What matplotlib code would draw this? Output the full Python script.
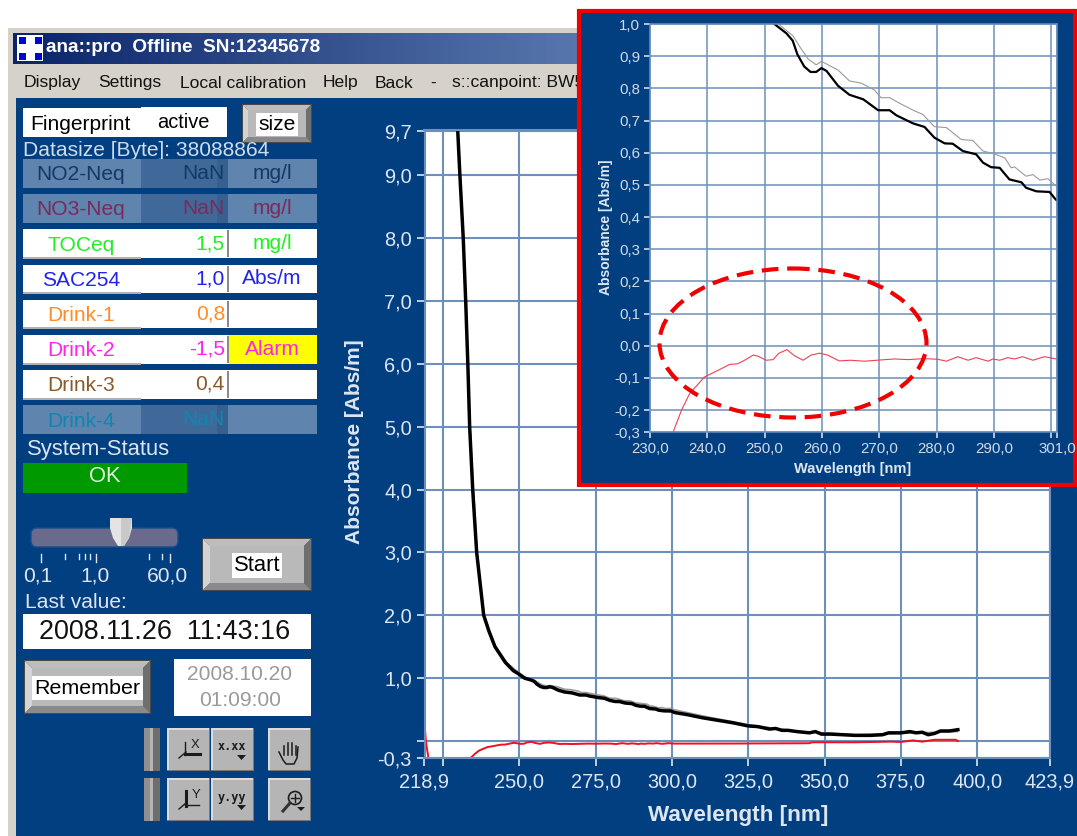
import numpy as np
import matplotlib
matplotlib.use("Agg")
import matplotlib.pyplot as plt
from matplotlib.patches import Rectangle, Ellipse, Circle, FancyBboxPatch

# ---------- data ----------
black_wl = [229.8,230.5,231.6,232.4,233.1,233.7,234.7,236,238.3,240,242,245.4,248,250,251.7,253.8,254.9,255.7,256.9,258,259,259.9,260.8,262.8,264.8,267.2,269.8,271.8,273,275.9,277.9,279.6,281.4,282.8,284.6,286.9,288.1,289.5,291,292.7,294.8,295.6,297.4,299.7,300.8,
            305,310,315,320,325,328,332,334,336,338,341,345,347,349,352,356,360,365,369,371,375,378,380,382,384,386,388,391,393.7]
black_abs = [9.7,9.0,8.0,7.0,6.0,5.0,4.0,3.0,2.0,1.75,1.5,1.25,1.12,1.06,1.0,.971,.948,.906,.868,.851,.851,.863,.854,.808,.78,.766,.732,.732,.716,.691,.68,.647,.629,.628,.605,.595,.569,.555,.553,.517,.508,.491,.48,.478,.454,
             .42,.37,.33,.29,.24,.23,.19,.2,.17,.17,.15,.13,.15,.11,.11,.1,.09,.09,.1,.13,.13,.15,.13,.14,.1,.12,.16,.16,.18]
gray_wl = [229.9,232.5,233.8,236.1,238.4,240,242,246,250,252.4,254.9,256.4,257.6,259,259.9,262.8,264.8,266.9,269.2,270.3,271.8,273.5,275.9,277.6,279.6,281.7,284.3,286.3,288.1,289.8,291.9,293,293.6,295.6,296.8,298,299.4,300.9,
           310,325,340,360,380,393.5]
gray_abs = [9.7,7.0,5.0,3.0,2.02,1.78,1.52,1.24,1.08,1.0,.964,.922,.891,.873,.884,.857,.823,.816,.794,.771,.771,.754,.732,.719,.681,.678,.641,.638,.605,.598,.584,.553,.556,.527,.532,.515,.519,.496,
            .40,.26,.16,.10,.13,.15]
red_wl = [219.1,219.4,219.8,220.2,226,234,235.5,236.9,239.5,241.9,243.9,245.3,246.5,248,248.8,250.3,251.5,252.4,253.9,255.2,256.7,258.1,259.6,261,263,265,267.4,270.3,272.7,275,277.9,280.2,281.7,283.7,285.5,286.9,289,289.8,291,292.4,293.6,295,296.8,298.8,300.9,
          320,345,346,360,372,375,379,382,386,393,393.7]
red_abs = [.16,-.02,-.15,-.27,np.nan,-.27,-.2,-.149,-.097,-.076,-.058,-.056,-.045,-.029,-.032,-.045,-.043,-.024,-.012,-.031,-.045,-.029,-.023,-.029,-.047,-.045,-.048,-.044,-.041,-.043,-.04,-.042,-.048,-.034,-.045,-.037,-.048,-.041,-.045,-.037,-.041,-.034,-.045,-.034,-.041,
           -.04,-.035,-.02,-.02,-.01,-.015,.01,-.01,.02,.02,0]

main_xticks = [218.9,225,250,275,300,325,350,375,400,423.9]
main_xlabels = ["218,9","","250,0","275,0","300,0","325,0","350,0","375,0","400,0","423,9"]
main_yticks = [-0.27,0,1,2,3,4,5,6,7,8,9,9.7]
main_ylabels = ["-0,3","","1,0","2,0","3,0","4,0","5,0","6,0","7,0","8,0","9,0","9,7"]
inset_xticks = [230,240,250,260,270,280,290,300,301]
inset_xlabels = ["230,0","240,0","250,0","260,0","270,0","280,0","290,0","","301,0"]
inset_yticks = [-0.268,-.2,-.1,0,.1,.2,.3,.4,.5,.6,.7,.8,.9,1.0]
inset_ylabels = ["-0,3","-0,2","-0,1","0,0","0,1","0,2","0,3","0,4","0,5","0,6","0,7","0,8","0,9","1,0"]

row_names = ["NO2-Neq","NO3-Neq","TOCeq","SAC254","Drink-1","Drink-2","Drink-3","Drink-4"]
row_values = ["NaN","NaN","1,5","1,0","0,8","-1,5","0,4","NaN"]
row_units = ["mg/l","mg/l","mg/l","Abs/m","","Alarm","",""]
row_colors = ["#123a66","#7a2a5c","#22ee22","#2222ee","#ff8c26","#ff22ee","#8b5a2b","#0f86b0"]
row_active = [False,False,True,True,True,True,True,False]
menu_items = ["Display","Settings","Local calibration","Help","Back","-","s::canpoint: BW5"]
title_text = "ana::pro  Offline  SN:12345678"

# ---------- style ----------
W, H = 1077, 836
NAVY = "#023f80"
GRID = "#6c90bb"
LIGHT = "#dde6f0"
plt.rcParams["font.family"] = ["Liberation Sans", "DejaVu Sans"]
PX = 0.72

fig = plt.figure(figsize=(W/100, H/100), dpi=100, facecolor="white")

def overlay(z):
    a = fig.add_axes([0, 0, 1, 1], zorder=z)
    a.set_xlim(0, W); a.set_ylim(H, 0); a.axis("off")
    a.patch.set_alpha(0)
    return a

def axes_px(x0, y0, x1, y1, z):
    return fig.add_axes([x0/W, 1-y1/H, (x1-x0)/W, (y1-y0)/H], zorder=z)

ui = overlay(0)

def box(x0, y0, x1, y1, fc, ec="none", lw=0, z=1, a=None, alpha=None):
    (a or ui).add_patch(Rectangle((x0, y0), x1-x0, y1-y0, fc=fc, ec=ec, lw=lw, zorder=z, alpha=alpha))

def txt(x, y, s, size, color="black", ha="left", weight="normal", z=5, a=None, **kw):
    return (a or ui).text(x, y, s, fontsize=size*PX, color=color, ha=ha, va="center", fontweight=weight, zorder=z, **kw)

def button(x0, y0, x1, y1, label=None, size=21, d=7):
    box(x0, y0, x1, y1, "#4a4a4a")
    i0, j0, i1, j1 = x0+1, y0+1, x1-1, y1-1
    a0, b0, a1, b1 = i0+d, j0+d, i1-d, j1-d
    ui.fill([i0, i1, a1, a0], [j0, j0, b0, b0], color="#bdbdbd", lw=0, zorder=1.1)
    ui.fill([i0, a0, a0, i0], [j0, b0, b1, j1], color="#d4d4d4", lw=0, zorder=1.1)
    ui.fill([i1, a1, a1, i1], [j0, b0, b1, j1], color="#6f6f6f", lw=0, zorder=1.1)
    ui.fill([i0, i1, a1, a0], [j1, j1, b1, b1], color="#8a8a8a", lw=0, zorder=1.1)
    box(a0, b0, a1, b1, "#b9b9b9", z=1.2)
    if label:
        t = txt((x0+x1)/2, (y0+y1)/2 + 1, label, size, ha="center")
        t.set_bbox(dict(fc="white", ec="none", pad=1.5))

# window frame
box(8, 28, W, H, "#d6d2ca")
box(13, 33, W, 64, "#0a246a", z=1)
grad = np.linspace(0, 1, 256).reshape(1, -1)
cm = matplotlib.colors.LinearSegmentedColormap.from_list("t", ["#0a246a", "#a6caf0"])
ui.imshow(grad, extent=(13, 1150, 64, 33), aspect="auto", cmap=cm, zorder=1.1)
ui.set_xlim(0, W); ui.set_ylim(H, 0)
box(17, 35, 43, 61, "white", z=2)
for cx, cy in [(19, 37), (35, 37), (19, 53), (35, 53)]:
    box(cx, cy, cx+6.5, cy+6.5, "#0000dd", z=2.1)
txt(46, 48, title_text, 19, "white", weight="bold")
box(14, 65, W, 98, "#d6d2ca", z=1)
for x, s in zip([24, 98, 180, 323, 375, 430, 452], menu_items):
    txt(x, 83, s, 17.5, "#111111")
box(16, 98, W, H, NAVY, z=1)

# top controls
txt(23, 151, "Datasize [Byte]: 38088864", 21, "#cfdcec", z=1.5)
box(23, 108, 141, 137, "white", z=2)
box(141, 107, 227, 137, "white", z=2)
txt(80, 124, "Fingerprint", 21, ha="center")
txt(183, 123, "active", 20, ha="center")
button(242, 104, 312, 143, "size", 21, 5)

# channel table
row_h = 35.2
for i, (nm, val, un, col, act) in enumerate(zip(row_names, row_values, row_units, row_colors, row_active)):
    y0 = 159 + i*row_h
    y1 = y0 + 28.5
    ym = (y0+y1)/2
    if act:
        box(23, y0, 141, y1, "white", z=2)
        box(23, y1-1, 141, y1+1, "#b0b0b0", z=2)
        box(141, y0, 228, y1, "white", z=2)
        box(228, y0, 317, y1, "yellow" if un == "Alarm" else "white", z=2)
        box(227, y0+1, 229, y1-1, "#8a8a8a", z=2.1)
    else:
        box(23, y0, 141, y1, "#5f84ad", z=2)
        box(141, y0, 217, y1, "#40699a", z=2)
        box(217, y0, 228, y1, "#35608f", z=2)
        box(228, y0, 317, y1, "#5f84ad", z=2)
    txt(81, ym + 1.5, nm, 21, col, ha="center")
    txt(225, ym, val, 21, col, ha="right")
    txt(272, ym, un, 21, col, ha="center")

# status
txt(27, 450, "System-Status", 22, "#dbe5f0")
box(23, 463, 187, 493, "#009a00", z=2)
txt(105, 477, "OK", 22, "#d8f5d8", ha="center")

# slider
ui.add_patch(FancyBboxPatch((31, 528), 147, 19, boxstyle="round,pad=0,rounding_size=6", fc="#6a6a8c", ec="#154f90", lw=1, zorder=2))
ui.fill([110, 132, 132, 129, 124, 118, 113, 110], [518, 518, 528, 538, 546, 546, 538, 528], color="#e4e4e4", zorder=3, lw=0)
ui.fill([121, 132, 129, 124, 121], [518, 518, 538, 546, 546], color="#c9c9c9", zorder=3.1, lw=0)
for x, h in zip([41, 65, 79, 85, 90, 96, 149, 162, 170], [8, 5, 5, 5, 5, 8, 5, 5, 8]):
    ui.plot([x, x], [554, 554+h], color="#dde6f0", lw=1, zorder=3)
for x, s in zip([38, 95, 167], ["0,1", "1,0", "60,0"]):
    txt(x, 576, s, 21, LIGHT, ha="center")
button(202, 538, 312, 591, "Start", 22)
txt(25, 602, "Last value:", 21, LIGHT)
box(23, 614, 311, 649, "white", z=2)
txt(165, 632, "2008.11.26  11:43:16", 27, "#111111", ha="center")
button(24, 660, 151, 714, "Remember", 21.5)
box(174, 659, 311, 716, "white", z=2)
txt(240, 674, "2008.10.20", 21, "#9a9a9a", ha="center")
txt(240, 701, "01:09:00", 21, "#9a9a9a", ha="center")

# toolbar
for y0 in (728, 778):
    box(144, y0, 150, y0+43, "#8f8f8f", z=2)
    box(150, y0, 153, y0+43, "#b4b4b4", z=2)
    box(153, y0, 160, y0+43, "#6e6e6e", z=2)
    for x0, x1 in [(167, 210), (211, 254), (268, 311)]:
        box(x0, y0, x1, y0+43, "#b5b5b5", z=2)
        box(x0, y0, x1, y0+1.5, "#dcdcdc", z=2.1)
        box(x0, y0, x0+1.5, y0+43, "#dcdcdc", z=2.1)
        box(x0, y0+41.5, x1, y0+43, "#777777", z=2.1)
        box(x1-1.5, y0, x1, y0+43, "#777777", z=2.1)
IC = "#1c1c1c"
# X axis icon
ui.plot([185, 185], [742, 755], color=IC, lw=1, zorder=3)
ui.plot([185, 200], [754, 754], color=IC, lw=2.2, zorder=3)
ui.plot([179, 186], [758, 752], color=IC, lw=1, zorder=3)
txt(195, 745, "X", 13, IC, ha="center", z=3)
# Y axis icon
ui.plot([185.5, 185.5], [791, 806], color=IC, lw=2.2, zorder=3)
ui.plot([185, 199], [805, 805], color=IC, lw=1, zorder=3)
ui.plot([179, 186], [809, 803], color=IC, lw=1, zorder=3)
txt(196, 795, "Y", 13, IC, ha="center", z=3)
# format icons
for y0, fmt in [(747, "x.xx"), (797, "y.yy")]:
    ui.text(232, y0, fmt, family="DejaVu Sans Mono", fontweight="bold", fontsize=8.5, color=IC, ha="center", va="center", zorder=3)
    ui.fill([237, 246, 241.5], [y0+8, y0+8, y0+13], color=IC, zorder=3, lw=0)
# hand and magnifier icons
for x, top in zip([284, 288, 292, 296], [746, 743, 743, 746]):
    ui.plot([x, x], [top, 755], color=IC, lw=1.1, zorder=3)
ui.plot([279, 283, 286, 294, 297, 298], [752, 760, 764, 764, 758, 747], color=IC, lw=1.1, zorder=3)
ui.add_patch(Circle((295, 798), 6.5, fc="none", ec=IC, lw=1.2, zorder=3))
ui.plot([283, 290], [811, 803], color="#333333", lw=2.2, zorder=3)
ui.plot([291, 299], [798, 798], color=IC, lw=1, zorder=3)
ui.plot([295, 295], [794, 802], color=IC, lw=1, zorder=3)
ui.fill([297, 305, 301], [807, 807, 811], color=IC, zorder=3, lw=0)

def style_axes(ax, xt, xl, yt, yl, tick_px, gridw, ticklen):
    ax.set_facecolor("white")
    ax.set_xticks(xt, xl)
    ax.set_yticks(yt, yl)
    ax.grid(True, color=GRID, lw=gridw)
    ax.set_axisbelow(True)
    for s in ax.spines.values():
        s.set_color(GRID); s.set_linewidth(gridw)
    ax.tick_params(colors=LIGHT, labelsize=tick_px*PX, length=ticklen, width=1.2, pad=3)

# main chart
ax = axes_px(424.5, 130, 1050, 758, 1)
style_axes(ax, main_xticks, main_xlabels, main_yticks, main_ylabels, 20, 1.5, 6)
ax.tick_params(axis="x", pad=4.5)
ax.set_xlim(218.9, 423.9); ax.set_ylim(-0.27, 9.72)
ax.plot(gray_wl, gray_abs, color="#9a9a9a", lw=1.2)
ax.plot(black_wl, black_abs, color="black", lw=2.5)
ax.plot(red_wl, red_abs, color="#f01020", lw=1.4)
ax.set_xlabel("Wavelength [nm]", fontsize=16.2, fontweight="bold", color=LIGHT)
ax.set_ylabel("Absorbance [Abs/m]", fontsize=15, fontweight="bold", color=LIGHT)
ax.xaxis.set_label_coords((738-424.5)/625.5, -(805-758)/628)
ax.yaxis.set_label_coords((364-424.5)/625.5, (758-442)/628)

# inset frame
ov2 = overlay(2)
box(579, 11, 1075, 485, NAVY, ec="#f00000", lw=3, a=ov2)

# inset chart
ins = axes_px(650, 24, 1057, 432, 3)
style_axes(ins, inset_xticks, inset_xlabels, inset_yticks, inset_ylabels, 15, 1.1, 4)
ins.tick_params(colors="#cfdbe9")
ins.set_xlim(230, 301); ins.set_ylim(-0.268, 1.0)
ins.plot(gray_wl, gray_abs, color="#9a9a9a", lw=0.8)
ins.plot(black_wl, black_abs, color="black", lw=1.6)
ins.plot(red_wl, red_abs, color="#f04050", lw=0.8)
ins.set_xlabel("Wavelength [nm]", fontsize=10.5, fontweight="bold", color=LIGHT)
ins.set_ylabel("Absorbance [Abs/m]", fontsize=10, fontweight="bold", color=LIGHT)
ins.xaxis.set_label_coords((853-650)/407, -(462-432)/408)
ins.yaxis.set_label_coords((613-650)/407, (432-227)/408)

ov3 = overlay(4)
ov3.add_patch(Ellipse((793, 343), 267, 149, fc="none", ec="#f00000", lw=3, ls=(0, (4, 2.1))))

fig.savefig("out.png", dpi=100, facecolor="white")
